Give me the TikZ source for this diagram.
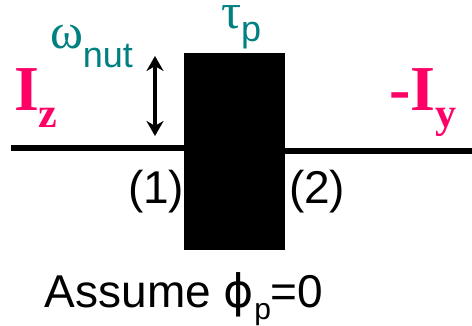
\documentclass[tikz,border=0pt]{standalone}
\usepackage{fontspec}
\setmainfont{Liberation Sans}
\newfontfamily\timesfont{Liberation Serif}
\newfontfamily\phifont{DejaVu Sans}
\usetikzlibrary{arrows.meta}
\definecolor{nutteal}{RGB}{0,128,128}
\definecolor{spinpink}{RGB}{255,0,102}
\newcommand{\lowsub}[3]{\raisebox{-#1}{\fontsize{#2}{#2}\selectfont #3}}

\begin{document}
\begin{tikzpicture}[x=1pt, y=-1pt,
    txt/.style={anchor=base west, inner sep=0pt, outer sep=0pt},
    spin/.style={txt, text=spinpink, font=\timesfont\bfseries\fontsize{64}{64}\selectfont},
    greek/.style={txt, text=nutteal, font=\timesfont\fontsize{50}{50}\selectfont},
    plain/.style={txt, font=\fontsize{46}{46}\selectfont}]
    \useasboundingbox (0,0) rectangle (472,325);

    % Draw pulse
    \node[fill=black, inner sep=0pt, minimum width=101pt, minimum height=197pt] (pulse) at (234.5,151.5) {};

    % Draw lines
    \coordinate (zend) at (11,148);
    \coordinate (yend) at (472,151);
    \draw[line width=6pt] (zend) -- (zend -| pulse.west);
    \draw[line width=6pt] (pulse.east |- yend) -- (yend);

    % Nutation arrow
    \coordinate (nuttop) at (155,56);
    \coordinate (nutbot) at (155,136);
    \draw[line width=3.5pt, {Stealth[length=15pt,width=17pt]}-{Stealth[length=15pt,width=17pt]}] (nuttop) -- (nutbot);

    % Labels
    \node[spin] (iz) at (14,110) {I\lowsub{17pt}{42}{z}};
    \node[spin] (iy) at (389,110) {-I\lowsub{17pt}{42}{y}};
    \node[greek] (omega) at (50,48) {ω\lowsub{19pt}{36}{\normalfont nut}};
    \node[greek] (tau) at (221,28) {\smash{τ\lowsub{13pt}{36}{\normalfont p}}};
    \node[plain] (one) at (128,203) {(1)};
    \node[plain] (two) at (289,203) {(2)};
    \node[plain] (assume) at (45,307) {Assume {\phifont ϕ}\lowsub{12pt}{30}{p}=0};
\end{tikzpicture}
\end{document}
